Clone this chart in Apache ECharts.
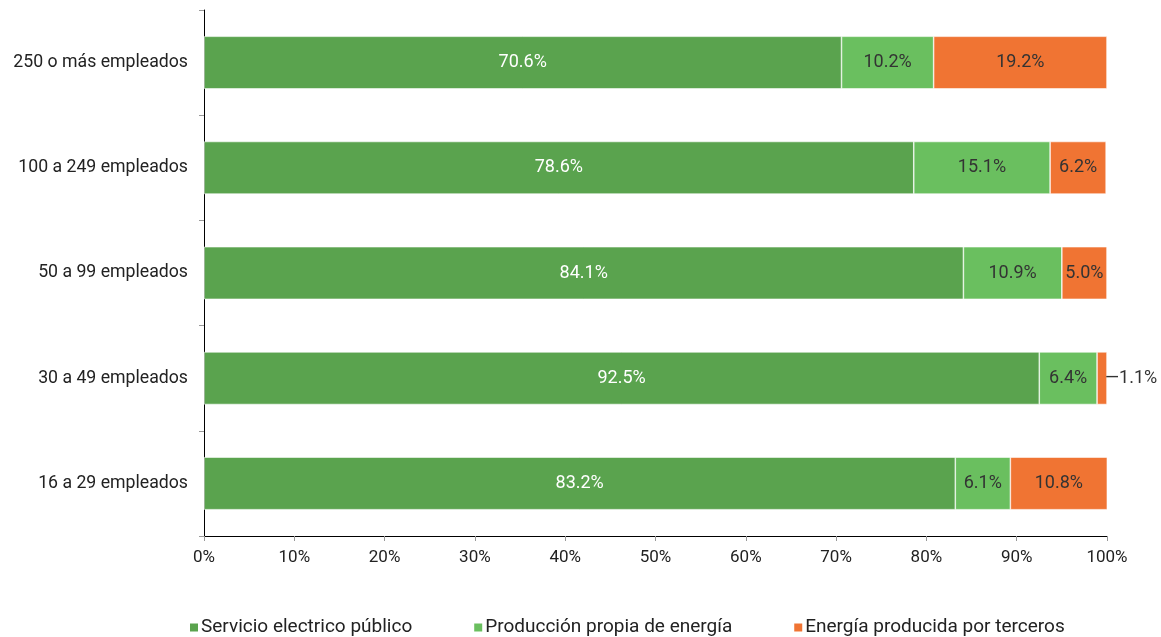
<!DOCTYPE html>
<html><head><meta charset="utf-8">
<script src="https://cdn.jsdelivr.net/npm/echarts@6/dist/echarts.min.js"></script>
<style>html,body{margin:0;padding:0;background:#fff}#c{width:1161px;height:637px}</style>
</head><body><div id="c"></div>
<script>
const categories = ['16 a 29 empleados','30 a 49 empleados','50 a 99 empleados','100 a 249 empleados','250 o más empleados'];
const seriesNames = ['Servicio electrico público','Producción propia de energía','Energía producida por terceros'];
const servicio = [83.2, 92.5, 84.1, 78.6, 70.6];
const propia = [6.1, 6.4, 10.9, 15.1, 10.2];
const terceros = [10.8, 1.1, 5.0, 6.2, 19.2];
const xTicks = [0,10,20,30,40,50,60,70,80,90,100];

const colors = ['#5aa34e','#6abf5f','#f07433'];
const font = 'Roboto';
function mk(name, data, color, labelColor, smallIdx){
  return {
    name, type:'bar', stack:'t', barWidth:'50%', data: data.map((v,i)=>{
      const d = {value:v};
      if(smallIdx!==undefined && i===smallIdx){
        d.label = {position:'right', distance:-2, formatter:'—'+v.toFixed(1)+'%', color:'#333'};
      }
      return d;
    }),
    itemStyle:{color, borderColor:'#fff', borderWidth:0.6},
    label:{show:true, position:'inside', color:labelColor, fontFamily:font, fontSize:18,
      formatter:p=>p.value.toFixed(1)+'%'}
  };
}
const chart = echarts.init(document.getElementById('c'));
chart.setOption({
  animation:false,
  textStyle:{fontFamily:font},
  grid:{left:204, right:54, top:10, bottom:101, containLabel:false},
  legend:{top:613, left:183, itemWidth:10, itemHeight:10, itemGap:60, icon:'rect',
    textStyle:{fontFamily:font, fontSize:19, color:'#222', padding:[0,0,0,-3]}},
  xAxis:{type:'value', min:0, max:100, interval:10,
    axisLine:{show:true, lineStyle:{color:'#000', width:1}},
    axisTick:{show:true, length:5, lineStyle:{color:'#999'}},
    splitLine:{show:false},
    axisLabel:{formatter:v=>v+'%', fontFamily:font, fontSize:17, color:'#222', margin:13}},
  yAxis:{type:'category', data:categories,
    axisLine:{show:true, lineStyle:{color:'#000', width:1}},
    axisTick:{show:true, length:5, lineStyle:{color:'#999'}},
    axisLabel:{fontFamily:font, fontSize:17.7, color:'#222', margin:16}},
  series:[
    mk(seriesNames[0], servicio, colors[0], '#fff'),
    mk(seriesNames[1], propia, colors[1], '#333'),
    mk(seriesNames[2], terceros, colors[2], '#333', 1)
  ]
});
</script></body></html>
